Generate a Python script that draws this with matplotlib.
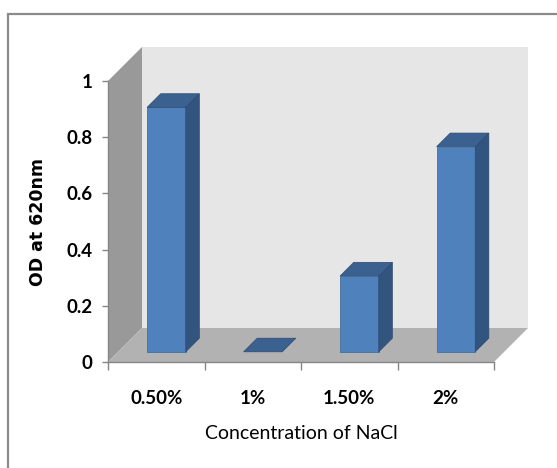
import matplotlib
matplotlib.use("Agg")
import matplotlib.pyplot as plt
from matplotlib.patches import Polygon, Rectangle

# data
categories = ["0.50%", "1%", "1.50%", "2%"]
od_values = [0.87, 0.0, 0.27, 0.73]
y_ticks = [0, 0.2, 0.4, 0.6, 0.8, 1]
y_tick_labels = ["0", "0.2", "0.4", "0.6", "0.8", "1"]

# colours
front_col = "#4f81bd"
top_col = "#3b6190"
side_col = "#32557f"
back_wall = "#e6e6e6"
side_wall = "#999999"
floor_col = "#b2b2b2"
axis_col = "#868686"

W, H = 557, 468
fig = plt.figure(figsize=(W / 100, H / 100), dpi=100)
fig.patch.set_facecolor("white")

# front plane of the 3d box in pixels: x 108..494, y(0)=362, y(1)=81 (from top)
ax = fig.add_axes([108 / W, (H - 362) / H, (494 - 108) / W, (362 - 81) / H])
ax.set_xlim(-0.5, 3.5)
ax.set_ylim(0, 1)
ax.patch.set_visible(False)

# depth offset of the box (34 px right, 34 px up) in data units
px_x = 4 / (494 - 108)
px_y = 1 / (362 - 81)
dx, dy = 34 * px_x, 34 * px_y

x0, x1 = -0.5, 3.5
walls = [
    ([(x0, 0), (x0, 1), (x0 + dx, 1 + dy), (x0 + dx, dy)], side_wall),
    ([(x0 + dx, dy), (x0 + dx, 1 + dy), (x1 + dx, 1 + dy), (x1 + dx, dy)], back_wall),
    ([(x0, 0), (x1, 0), (x1 + dx, dy), (x0 + dx, dy)], floor_col),
]
for pts, col in walls:
    ax.add_patch(Polygon(pts, closed=True, facecolor=col, edgecolor="none",
                         clip_on=False, zorder=0))

# bars sit in the middle of the depth
f0, f1 = 0.30, 0.70
bw = 0.40
for i, v in enumerate(od_values):
    xs = i - bw / 2 + f0 * dx
    xe = i + bw / 2 + f0 * dx
    yb = f0 * dy
    bdx, bdy = (f1 - f0) * dx, (f1 - f0) * dy
    top = [(xs, yb + v), (xe, yb + v), (xe + bdx, yb + v + bdy), (xs + bdx, yb + v + bdy)]
    if v > 0:
        ax.bar(i + f0 * dx, v, width=bw, bottom=yb, color=front_col,
               edgecolor="#41719c", linewidth=0.6, zorder=3, clip_on=False)
        side = [(xe, yb), (xe + bdx, yb + bdy), (xe + bdx, yb + v + bdy), (xe, yb + v)]
        ax.add_patch(Polygon(side, closed=True, facecolor=side_col,
                             edgecolor="#2c4a70", linewidth=0.5, zorder=3, clip_on=False))
    ax.add_patch(Polygon(top, closed=True, facecolor=top_col,
                         edgecolor="#2c4a70", linewidth=0.5, zorder=3, clip_on=False))

# axes styling
for s in ["top", "right"]:
    ax.spines[s].set_visible(False)
for s in ["left", "bottom"]:
    ax.spines[s].set_color(axis_col)
    ax.spines[s].set_linewidth(1.0)
    ax.spines[s].set_zorder(4)

tick_font = dict(family="Lato", weight="bold", size=13.5)
ax.set_yticks(y_ticks)
ax.set_yticklabels(y_tick_labels, fontdict=tick_font)
ax.tick_params(axis="y", direction="out", length=4.3, width=1, color=axis_col, pad=7)

ax.set_xticks(range(len(categories)))
ax.set_xticklabels(categories, fontdict=tick_font)
ax.set_xticks([-0.5, 0.5, 1.5, 2.5, 3.5], minor=True)
ax.tick_params(axis="x", which="major", length=0, pad=20)
ax.tick_params(axis="x", which="minor", direction="out", length=5.8, width=1, color=axis_col)

ax.set_xlabel("Concentration of NaCl", family="Lato", size=14, labelpad=13)
ax.set_ylabel("OD at 620nm", family="DejaVu Sans", weight="bold", size=12.5, labelpad=14)

# chart area border
fig.patches.append(Rectangle((8 / W, -0.2), 1.5, (H - 14) / H + 0.2,
                             transform=fig.transFigure, fill=False,
                             edgecolor="#8a8a8a", linewidth=1.6))

fig.savefig("out.png", dpi=100)
